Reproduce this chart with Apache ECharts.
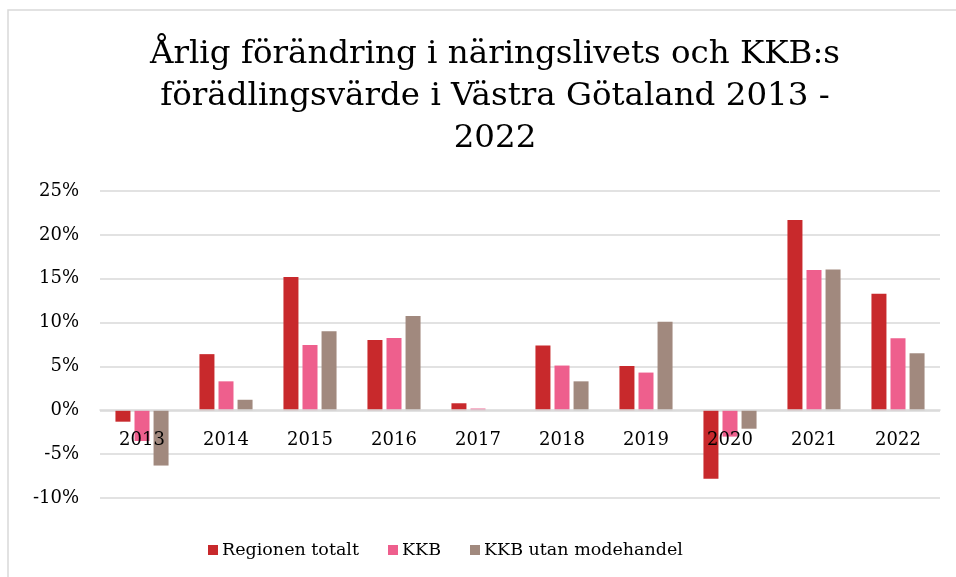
<!DOCTYPE html>
<html>
<head>
    <meta charset="utf-8" />
    <title>KKB förädlingsvärde</title>
    <script src="https://cdn.jsdelivr.net/npm/echarts@6/dist/echarts.min.js"></script>
    <style>
        html, body { margin: 0; padding: 0; background: #fff; }
    </style>
</head>
<body>
<div id="main" style="width: 956px;height:577px;"></div>
<script type="text/javascript">
    // år på x-axeln
    const years = ['2013', '2014', '2015', '2016', '2017', '2018', '2019', '2020', '2021', '2022'];

    // årlig förändring i procent
    const regionenTotalt = [-1.3, 6.4, 15.2, 8.0, 0.8, 7.4, 5.05, -7.8, 21.7, 13.3];
    const kkb = [-3.5, 3.3, 7.45, 8.25, 0.2, 5.1, 4.3, -3.0, 16.0, 8.2];
    const kkbUtanModehandel = [-6.3, 1.2, 9.0, 10.75, 0, 3.3, 10.1, -2.1, 16.05, 6.5];

    const seriesNames = ['Regionen totalt', 'KKB', 'KKB utan modehandel'];
    const colors = ['#C8292C', '#EE5F8D', '#A1897E'];

    const font = '"DejaVu Serif", "Liberation Serif", serif';

    let myChart = echarts.init(document.getElementById('main'));

    const makeBar = (name, data, i) => ({
        name: name,
        type: 'bar',
        data: data,
        barWidth: 15,
        barGap: '27%',
        itemStyle: { color: colors[i] },
        animation: false
    });

    let option = {
        backgroundColor: '#fff',
        textStyle: { fontFamily: font },
        graphic: [{
            type: 'rect',
            shape: { x: 8, y: 10, width: 1000, height: 1000 },
            style: { fill: 'none', stroke: '#d9d9d9', lineWidth: 1.5 },
            silent: true
        }],
        title: {
            text: 'Årlig förändring i näringslivets och KKB:s\nförädlingsvärde i Västra Götaland 2013 -\n2022',
            left: 490,
            textAlign: 'center',
            top: 29,
            textStyle: {
                fontFamily: font,
                fontSize: 32.5,
                fontWeight: 'normal',
                color: '#000',
                lineHeight: 42
            }
        },
        legend: {
            left: 203,
            top: 536,
            itemWidth: 10,
            itemHeight: 10,
            itemGap: 29,
            icon: 'rect',
            textStyle: { fontFamily: font, fontSize: 17.5, color: '#000', padding: [0, 0, 0, -1] },
            data: seriesNames
        },
        grid: {
            left: 100,
            right: 16,
            top: 191,
            bottom: 79,
            containLabel: false
        },
        xAxis: {
            type: 'category',
            data: years,
            offset: -88,
            z: 10,
            axisLine: { onZero: false, lineStyle: { color: '#d9d9d9', width: 1.5 } },
            axisTick: { show: false },
            axisLabel: { fontFamily: font, fontSize: 18, color: '#000', margin: 21 }
        },
        yAxis: {
            type: 'value',
            min: -10,
            max: 25,
            interval: 5,
            axisLine: { show: false },
            axisTick: { show: false },
            axisLabel: {
                fontFamily: font,
                fontSize: 18,
                color: '#000',
                margin: 21,
                formatter: '{value}%'
            },
            splitLine: { lineStyle: { color: '#d9d9d9', width: 1.5 } }
        },
        series: [
            makeBar(seriesNames[0], regionenTotalt, 0),
            makeBar(seriesNames[1], kkb, 1),
            makeBar(seriesNames[2], kkbUtanModehandel, 2)
        ]
    };
    myChart.setOption(option);
</script>
</body>
</html>
